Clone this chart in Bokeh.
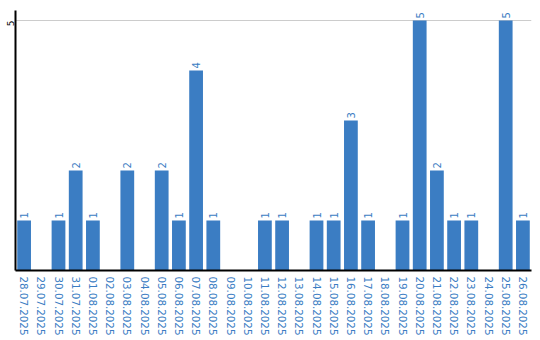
from bokeh.plotting import figure
from bokeh.models import ColumnDataSource, FixedTicker, FactorRange, Range1d
from bokeh.core.properties import value
from bokeh.embed import file_html
from bokeh.resources import INLINE
import math

dates = ["28.07.2025", "29.07.2025", "30.07.2025", "31.07.2025", "01.08.2025",
         "02.08.2025", "03.08.2025", "04.08.2025", "05.08.2025", "06.08.2025",
         "07.08.2025", "08.08.2025", "09.08.2025", "10.08.2025", "11.08.2025",
         "12.08.2025", "13.08.2025", "14.08.2025", "15.08.2025", "16.08.2025",
         "17.08.2025", "18.08.2025", "19.08.2025", "20.08.2025", "21.08.2025",
         "22.08.2025", "23.08.2025", "24.08.2025", "25.08.2025", "26.08.2025"]
counts = [1, 0, 1, 2, 1, 0, 2, 0, 2, 1, 4, 1, 0, 0, 1, 1, 0, 1, 1, 3, 1, 0, 1, 5, 2, 1, 1, 0, 5, 1]
y_ticks = [5]

BLUE = "#3b7dc3"
FONT = "DejaVu Sans"

src = ColumnDataSource(dict(x=dates, y=counts))
lab = ColumnDataSource(dict(x=[d for d, c in zip(dates, counts) if c > 0],
                            y=[c for c in counts if c > 0],
                            t=[str(c) for c in counts if c > 0]))

p = figure(width=540, height=338, x_range=FactorRange(*dates), y_range=Range1d(0, 5.2),
           output_backend="svg", toolbar_location=None,
           min_border_top=10, min_border_right=9, min_border_left=0, min_border_bottom=0)
p.outline_line_color = None
p.background_fill_color = "white"
p.border_fill_color = "white"

p.vbar(x="x", top="y", width=0.8, source=src, fill_color=BLUE, line_color=None)
p.text(x="x", y="y", text="t", source=lab, angle=math.pi / 2, x_offset=0, y_offset=-2,
       text_align="left", text_baseline="middle", text_color=BLUE,
       text_font=value(FONT), text_font_size="10px")

p.xgrid.grid_line_color = None
p.ygrid.grid_line_color = "#cccccc"
p.ygrid.ticker = FixedTicker(ticks=y_ticks)
p.yaxis.ticker = FixedTicker(ticks=y_ticks)

for ax in (p.xaxis[0], p.yaxis[0]):
    ax.axis_line_color = "black"
    ax.axis_line_width = 2
    ax.major_tick_line_color = None
    ax.minor_tick_line_color = None
    ax.major_tick_out = 0
    ax.major_tick_in = 0
    ax.major_label_text_font = FONT

p.xaxis.major_label_text_font_size = "10.3px"
p.xaxis.major_label_orientation = "vertical"
p.xaxis.major_label_text_color = BLUE
p.xaxis.major_label_standoff = 6
p.yaxis.major_label_text_font_size = "9px"
p.yaxis.major_label_orientation = math.pi / 2
p.yaxis.major_label_text_color = "black"
p.yaxis.major_label_standoff = 5

open("out.html", "w").write(file_html(p, INLINE))
